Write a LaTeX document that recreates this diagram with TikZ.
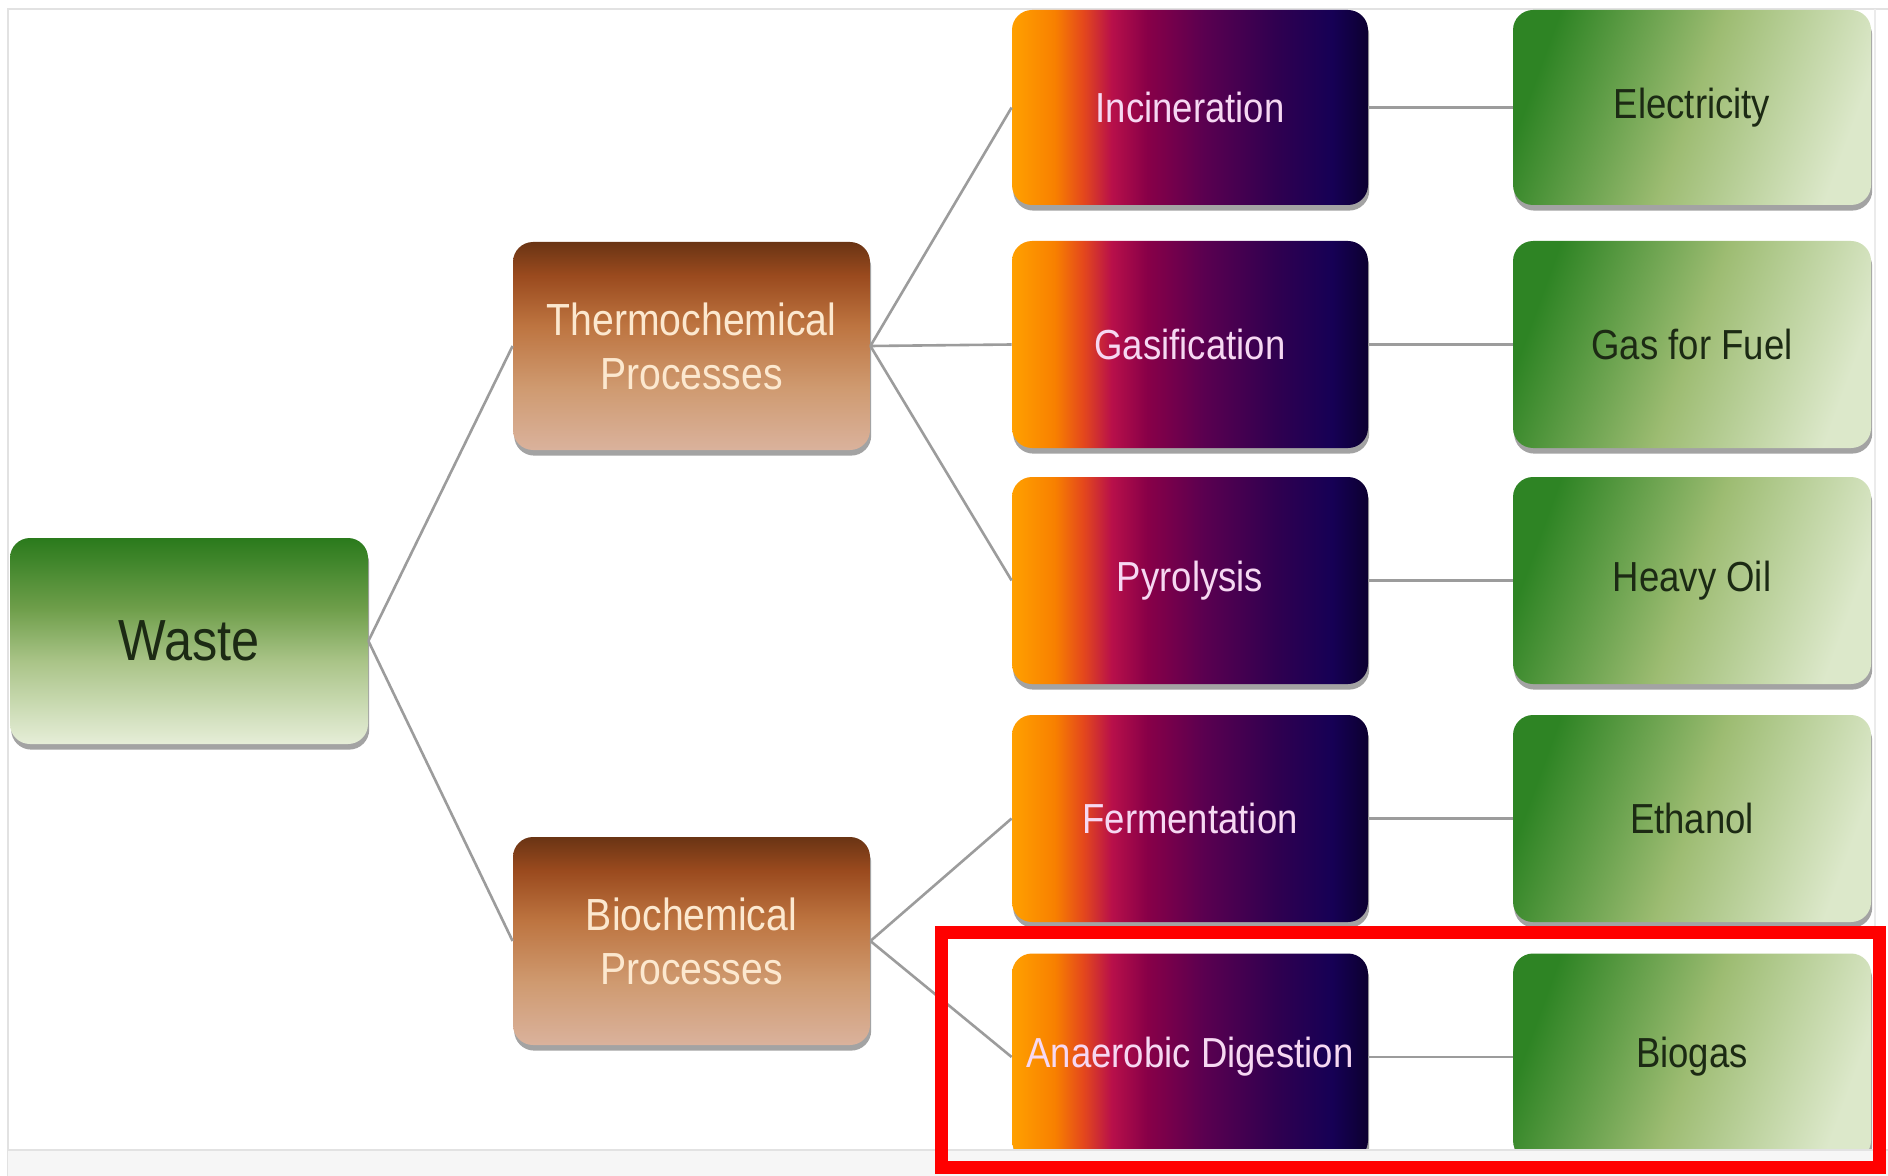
\documentclass[tikz,border=0pt]{standalone}
\usepackage{fontspec}
\setmainfont[FakeStretch=0.87]{Liberation Sans}
\usetikzlibrary{shadows}
% colours
\definecolor{wT}{HTML}{2A7A1C}
\definecolor{wM1}{HTML}{6E9E4A}
\definecolor{wM2}{HTML}{AAC488}
\definecolor{wB}{HTML}{E6EED8}
\definecolor{bT}{HTML}{6A3414}
\definecolor{bM1}{HTML}{9A4A1E}
\definecolor{bM2}{HTML}{BD7440}
\definecolor{bM3}{HTML}{CF9A70}
\definecolor{bB}{HTML}{DAB29C}
\definecolor{pA}{HTML}{FFA000}
\definecolor{pA2}{HTML}{F88000}
\definecolor{pB}{HTML}{E4481C}
\definecolor{pC}{HTML}{B8104A}
\definecolor{pD}{HTML}{880048}
\definecolor{pE}{HTML}{5A0050}
\definecolor{pF}{HTML}{300050}
\definecolor{pG}{HTML}{160055}
\definecolor{pH}{HTML}{0C0030}
\definecolor{gA}{HTML}{2E8424}
\definecolor{gM}{HTML}{9DBC72}
\definecolor{gB}{HTML}{DCE8CA}
\definecolor{txtDark}{HTML}{1C2A14}
\definecolor{txtCream}{HTML}{FCE8CF}
\definecolor{txtPink}{HTML}{F6D8F2}
\definecolor{connc}{HTML}{9C9C9C}
\definecolor{framec}{HTML}{E2E2E2}
\definecolor{stripc}{HTML}{F6F6F6}
\pgfdeclareverticalshading{wasteshade}{100bp}{color(0bp)=(wB); color(25bp)=(wB); color(45bp)=(wM2); color(58bp)=(wM1); color(75bp)=(wT); color(100bp)=(wT)}
\pgfdeclareverticalshading{brownshade}{100bp}{color(0bp)=(bB); color(25bp)=(bB); color(40bp)=(bM3); color(55bp)=(bM2); color(67bp)=(bM1); color(75bp)=(bT); color(100bp)=(bT)}
\pgfdeclarehorizontalshading{procshade}{100bp}{color(0bp)=(pA); color(25bp)=(pA); color(31bp)=(pA2); color(35bp)=(pB); color(39bp)=(pC); color(44bp)=(pD); color(52bp)=(pE); color(62bp)=(pF); color(70bp)=(pG); color(75bp)=(pH); color(100bp)=(pH)}
\tikzset{
  boxbase/.style={rectangle, rounded corners=10pt, inner sep=0pt, align=center,
    drop shadow={shadow xshift=0.6pt, shadow yshift=-2.8pt, fill=black!60, opacity=0.6}},
  wastebox/.style={boxbase, shading=wasteshade, minimum width=179pt, minimum height=103pt,
    text=txtDark, font=\fontsize{29pt}{34pt}\selectfont},
  midbox/.style={boxbase, shading=brownshade, minimum width=178.5pt, minimum height=104pt,
    text=txtCream, font=\fontsize{22.5pt}{27pt}\selectfont},
  procbox/.style={boxbase, shading=procshade, minimum width=178pt,
    text=txtPink, font=\fontsize{21pt}{25pt}\selectfont},
  prodbox/.style={boxbase, top color=gA, bottom color=gB, middle color=gM, shading angle=70,
    minimum width=179pt, text=txtDark, font=\fontsize{21pt}{25pt}\selectfont},
  rowA/.style={minimum height=97.5pt},
  rowB/.style={minimum height=103.5pt},
  conn/.style={draw=connc, line width=1.3pt},
}
\begin{document}
\begin{tikzpicture}[x=0.5pt, y=-0.5pt]
\useasboundingbox (0,0) rectangle (1888,1176);
\fill[white] (0,0) rectangle (1888,1176);
% frame
\draw[framec, line width=1.2pt] (8,1176) -- (8,9) -- (1888,9);
\draw[framec!70, line width=1pt] (1875,9) -- (1875,1150);
% nodes
\node[wastebox] (waste) at (189,641) {Waste};
\node[midbox] (thermo) at (691.5,346) {Thermochemical\\Processes};
\node[midbox] (bio) at (691.5,941) {Biochemical\\Processes};
\node[procbox, rowA] (inc) at (1190,107.5) {Incineration};
\node[procbox, rowB] (gas) at (1190,344.5) {Gasification};
\node[procbox, rowB] (pyr) at (1190,580.5) {Pyrolysis};
\node[procbox, rowB] (fer) at (1190,818.5) {Fermentation};
\node[procbox, rowB] (ana) at (1190,1057) {Anaerobic Digestion};
\node[prodbox, rowA] (ele) at (1692,107.5) {Electricity};
\node[prodbox, rowB] (gff) at (1692,344.5) {Gas for Fuel};
\node[prodbox, rowB] (oil) at (1692,580.5) {Heavy Oil};
\node[prodbox, rowB] (eth) at (1692,818.5) {Ethanol};
\node[prodbox, rowB] (bgs) at (1692,1057) {Biogas};
% connectors
\draw[conn] (waste.east) -- (thermo.west);
\draw[conn] (waste.east) -- (bio.west);
\draw[conn] (thermo.east) -- (inc.west);
\draw[conn] (thermo.east) -- (gas.west);
\draw[conn] (thermo.east) -- (pyr.west);
\draw[conn] (bio.east) -- (fer.west);
\draw[conn] (bio.east) -- (ana.west);
\draw[conn] (inc.east) -- (ele.west);
\draw[conn] (gas.east) -- (gff.west);
\draw[conn] (pyr.east) -- (oil.west);
\draw[conn] (fer.east) -- (eth.west);
\draw[conn] (ana.east) -- (bgs.west);
% bottom strip
\fill[stripc] (8,1150) rectangle (1888,1176);
\draw[framec, line width=1.2pt] (8,1150) -- (1888,1150);
% red highlight
\draw[red, line width=6.5pt] (941,932) rectangle (1879,1167);
\end{tikzpicture}
\end{document}
